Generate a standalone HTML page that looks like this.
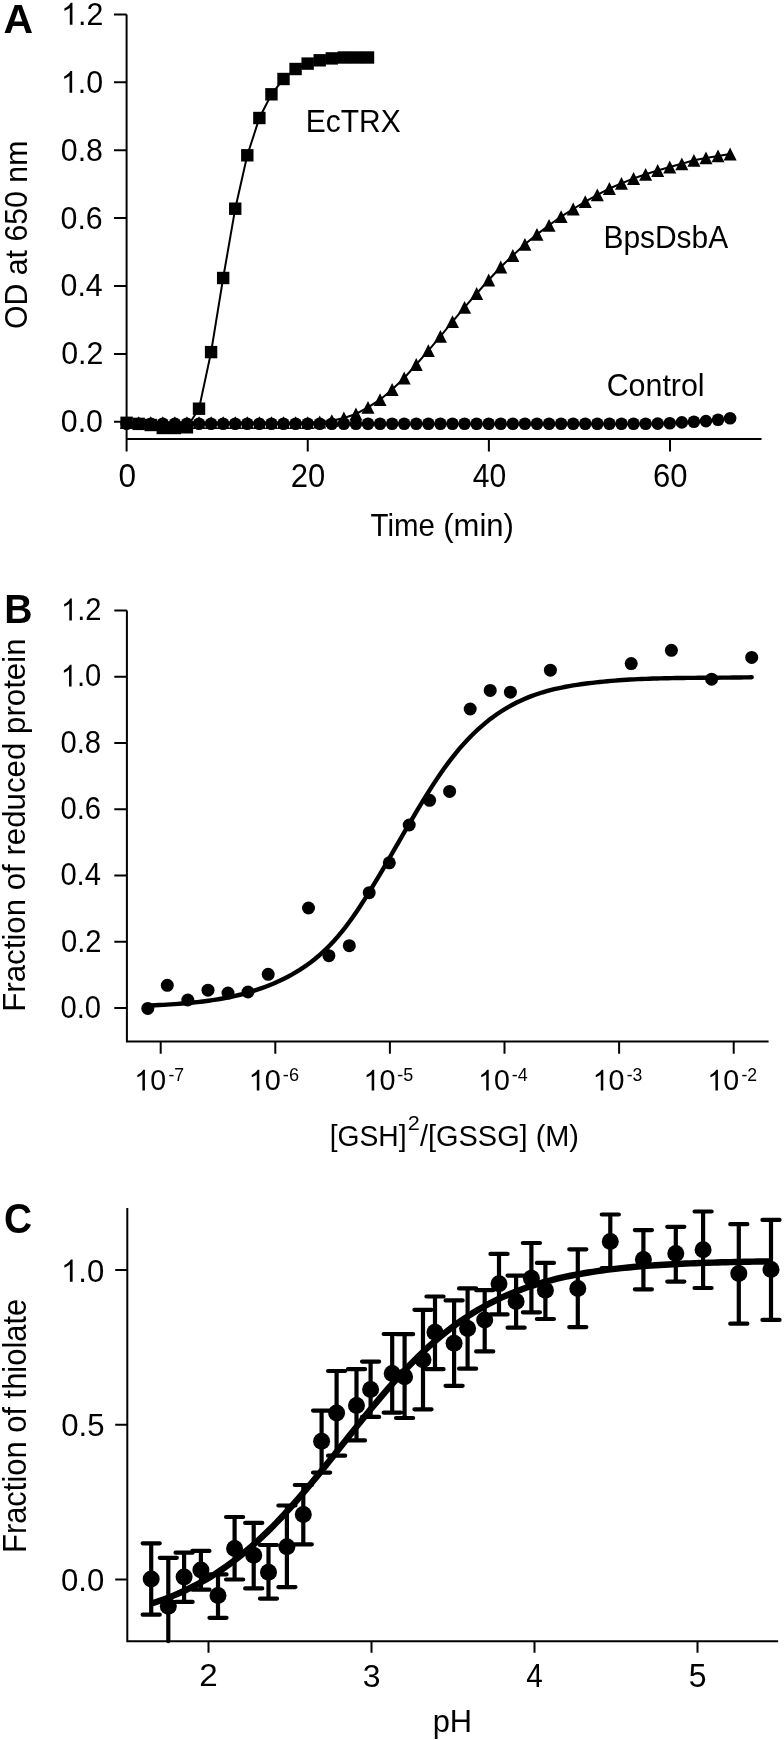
<!DOCTYPE html>
<html><head><meta charset="utf-8"><title>Figure</title>
<style>
html,body{margin:0;padding:0;background:#fff;}
body{width:784px;height:1740px;overflow:hidden;font-family:"Liberation Sans", sans-serif;}
svg{display:block;filter:grayscale(100%);}
</style></head><body>
<svg width="784" height="1740" viewBox="0 0 784 1740">
<rect width="784" height="1740" fill="#fff"/>
<g stroke="#000" stroke-width="2" fill="none" stroke-linecap="butt">
<path d="M126.6 14.4 V451.6 M126.6 439.1 H761.5"/>
<path d="M114 421.8 H126.6 M114 353.9 H126.6 M114 286 H126.6 M114 218.1 H126.6 M114 150.2 H126.6 M114 82.3 H126.6 M114 14.4 H126.6 M307.74 439.1 V451.6 M488.88 439.1 V451.6 M670.02 439.1 V451.6 "/>
<path d="M126.9 610.6 V1041.4 H768.6"/>
<path d="M114.3 1008 H126.9 M114.3 941.76 H126.9 M114.3 875.52 H126.9 M114.3 809.28 H126.9 M114.3 743.04 H126.9 M114.3 676.8 H126.9 M114.3 610.56 H126.9 M160.7 1041.4 V1053.8 M275.3 1041.4 V1053.8 M389.9 1041.4 V1053.8 M504.5 1041.4 V1053.8 M619.1 1041.4 V1053.8 M733.7 1041.4 V1053.8 "/>
<path d="M127.3 1208 V1641.2 H778.1"/>
<path d="M115.2 1579.5 H127.3 M115.2 1424.75 H127.3 M115.2 1270 H127.3 M208.5 1641.2 V1652.7 M371.5 1641.2 V1652.7 M534.5 1641.2 V1652.7 M697.5 1641.2 V1652.7 "/>
</g>
<g stroke="#000" stroke-width="2" fill="none">
<path d="M126.6 423.7 L138.67 423.7 L150.74 423.7 L162.81 423.7 L174.88 423.7 L186.95 423.7 L199.02 423.7 L211.09 423.7 L223.16 423.7 L235.23 423.7 L247.3 423.7 L259.37 423.7 L271.44 423.7 L283.51 423.7 L295.58 423.7 L307.65 423.7 L319.72 423.7 L331.79 423.7 L343.86 423.7 L355.93 423.7 L368 423.7 L380.07 423.7 L392.14 423.7 L404.21 423.7 L416.28 423.7 L428.35 423.7 L440.42 423.7 L452.49 423.7 L464.56 423.7 L476.63 423.7 L488.7 423.7 L500.77 423.7 L512.84 423.7 L524.91 423.7 L536.98 423.7 L549.05 423.7 L561.12 423.7 L573.19 423.7 L585.26 423.7 L597.33 423.7 L609.4 423.7 L621.47 423.7 L633.54 423.7 L645.61 423.7 L657.68 423.6 L669.75 423.3 L681.82 422.4 L693.89 421.8 L705.96 421.1 L718.03 419.8 L730.1 418.3"/>
<path d="M126.6 422.6 L138.67 422.6 L150.74 422.6 L162.81 422.6 L174.88 422.6 L186.95 422.6 L199.02 422.6 L211.09 422.6 L223.16 422.6 L235.23 422.6 L247.3 422.6 L259.37 422.6 L271.44 422.6 L283.51 422.6 L295.58 422.6 L307.65 422.6 L319.72 422 L331.79 420.7 L343.86 418 L355.93 414 L368 407.4 L380.07 399.7 L392.14 389.5 L404.21 378 L416.28 364.5 L428.35 350.6 L440.42 336.3 L452.49 321.6 L464.56 307.3 L476.63 293.5 L488.7 280 L500.77 267 L512.84 255.5 L524.91 244.3 L536.98 234.4 L549.05 225.3 L561.12 216.7 L573.19 209 L585.26 201.7 L597.33 194.8 L609.4 188.5 L621.47 183.3 L633.54 178.5 L645.61 174.3 L657.68 170.5 L669.75 167 L681.82 163.8 L693.89 160.3 L705.96 157.9 L718.03 155.9 L730.1 154"/>
<path d="M126.6 422.8 L138.67 423.9 L150.74 425 L162.81 428 L174.88 428 L186.95 427.3 L199.02 408.7 L211.09 352.1 L223.16 278 L235.23 208.7 L247.3 155.3 L259.37 118 L271.44 94.3 L283.51 79 L295.58 69 L307.65 63.6 L319.72 60.3 L331.79 58.4 L343.86 57.5 L355.93 57.5 L368 57.5"/>
</g>
<g fill="#000">
<circle cx="126.6" cy="423.7" r="6.3"/>
<circle cx="138.67" cy="423.7" r="6.3"/>
<circle cx="150.74" cy="423.7" r="6.3"/>
<circle cx="162.81" cy="423.7" r="6.3"/>
<circle cx="174.88" cy="423.7" r="6.3"/>
<circle cx="186.95" cy="423.7" r="6.3"/>
<circle cx="199.02" cy="423.7" r="6.3"/>
<circle cx="211.09" cy="423.7" r="6.3"/>
<circle cx="223.16" cy="423.7" r="6.3"/>
<circle cx="235.23" cy="423.7" r="6.3"/>
<circle cx="247.3" cy="423.7" r="6.3"/>
<circle cx="259.37" cy="423.7" r="6.3"/>
<circle cx="271.44" cy="423.7" r="6.3"/>
<circle cx="283.51" cy="423.7" r="6.3"/>
<circle cx="295.58" cy="423.7" r="6.3"/>
<circle cx="307.65" cy="423.7" r="6.3"/>
<circle cx="319.72" cy="423.7" r="6.3"/>
<circle cx="331.79" cy="423.7" r="6.3"/>
<circle cx="343.86" cy="423.7" r="6.3"/>
<circle cx="355.93" cy="423.7" r="6.3"/>
<circle cx="368" cy="423.7" r="6.3"/>
<circle cx="380.07" cy="423.7" r="6.3"/>
<circle cx="392.14" cy="423.7" r="6.3"/>
<circle cx="404.21" cy="423.7" r="6.3"/>
<circle cx="416.28" cy="423.7" r="6.3"/>
<circle cx="428.35" cy="423.7" r="6.3"/>
<circle cx="440.42" cy="423.7" r="6.3"/>
<circle cx="452.49" cy="423.7" r="6.3"/>
<circle cx="464.56" cy="423.7" r="6.3"/>
<circle cx="476.63" cy="423.7" r="6.3"/>
<circle cx="488.7" cy="423.7" r="6.3"/>
<circle cx="500.77" cy="423.7" r="6.3"/>
<circle cx="512.84" cy="423.7" r="6.3"/>
<circle cx="524.91" cy="423.7" r="6.3"/>
<circle cx="536.98" cy="423.7" r="6.3"/>
<circle cx="549.05" cy="423.7" r="6.3"/>
<circle cx="561.12" cy="423.7" r="6.3"/>
<circle cx="573.19" cy="423.7" r="6.3"/>
<circle cx="585.26" cy="423.7" r="6.3"/>
<circle cx="597.33" cy="423.7" r="6.3"/>
<circle cx="609.4" cy="423.7" r="6.3"/>
<circle cx="621.47" cy="423.7" r="6.3"/>
<circle cx="633.54" cy="423.7" r="6.3"/>
<circle cx="645.61" cy="423.7" r="6.3"/>
<circle cx="657.68" cy="423.6" r="6.3"/>
<circle cx="669.75" cy="423.3" r="6.3"/>
<circle cx="681.82" cy="422.4" r="6.3"/>
<circle cx="693.89" cy="421.8" r="6.3"/>
<circle cx="705.96" cy="421.1" r="6.3"/>
<circle cx="718.03" cy="419.8" r="6.3"/>
<circle cx="730.1" cy="418.3" r="6.3"/>
<path d="M126.6 416.2l6.5 12.8h-13z"/>
<path d="M138.67 416.2l6.5 12.8h-13z"/>
<path d="M150.74 416.2l6.5 12.8h-13z"/>
<path d="M162.81 416.2l6.5 12.8h-13z"/>
<path d="M174.88 416.2l6.5 12.8h-13z"/>
<path d="M186.95 416.2l6.5 12.8h-13z"/>
<path d="M199.02 416.2l6.5 12.8h-13z"/>
<path d="M211.09 416.2l6.5 12.8h-13z"/>
<path d="M223.16 416.2l6.5 12.8h-13z"/>
<path d="M235.23 416.2l6.5 12.8h-13z"/>
<path d="M247.3 416.2l6.5 12.8h-13z"/>
<path d="M259.37 416.2l6.5 12.8h-13z"/>
<path d="M271.44 416.2l6.5 12.8h-13z"/>
<path d="M283.51 416.2l6.5 12.8h-13z"/>
<path d="M295.58 416.2l6.5 12.8h-13z"/>
<path d="M307.65 416.2l6.5 12.8h-13z"/>
<path d="M319.72 415.6l6.5 12.8h-13z"/>
<path d="M331.79 414.3l6.5 12.8h-13z"/>
<path d="M343.86 411.6l6.5 12.8h-13z"/>
<path d="M355.93 407.6l6.5 12.8h-13z"/>
<path d="M368 401l6.5 12.8h-13z"/>
<path d="M380.07 393.3l6.5 12.8h-13z"/>
<path d="M392.14 383.1l6.5 12.8h-13z"/>
<path d="M404.21 371.6l6.5 12.8h-13z"/>
<path d="M416.28 358.1l6.5 12.8h-13z"/>
<path d="M428.35 344.2l6.5 12.8h-13z"/>
<path d="M440.42 329.9l6.5 12.8h-13z"/>
<path d="M452.49 315.2l6.5 12.8h-13z"/>
<path d="M464.56 300.9l6.5 12.8h-13z"/>
<path d="M476.63 287.1l6.5 12.8h-13z"/>
<path d="M488.7 273.6l6.5 12.8h-13z"/>
<path d="M500.77 260.6l6.5 12.8h-13z"/>
<path d="M512.84 249.1l6.5 12.8h-13z"/>
<path d="M524.91 237.9l6.5 12.8h-13z"/>
<path d="M536.98 228l6.5 12.8h-13z"/>
<path d="M549.05 218.9l6.5 12.8h-13z"/>
<path d="M561.12 210.3l6.5 12.8h-13z"/>
<path d="M573.19 202.6l6.5 12.8h-13z"/>
<path d="M585.26 195.3l6.5 12.8h-13z"/>
<path d="M597.33 188.4l6.5 12.8h-13z"/>
<path d="M609.4 182.1l6.5 12.8h-13z"/>
<path d="M621.47 176.9l6.5 12.8h-13z"/>
<path d="M633.54 172.1l6.5 12.8h-13z"/>
<path d="M645.61 167.9l6.5 12.8h-13z"/>
<path d="M657.68 164.1l6.5 12.8h-13z"/>
<path d="M669.75 160.6l6.5 12.8h-13z"/>
<path d="M681.82 157.4l6.5 12.8h-13z"/>
<path d="M693.89 153.9l6.5 12.8h-13z"/>
<path d="M705.96 151.5l6.5 12.8h-13z"/>
<path d="M718.03 149.5l6.5 12.8h-13z"/>
<path d="M730.1 147.6l6.5 12.8h-13z"/>
<rect x="120.4" y="416.6" width="12.4" height="12.4"/>
<rect x="132.47" y="417.7" width="12.4" height="12.4"/>
<rect x="144.54" y="418.8" width="12.4" height="12.4"/>
<rect x="156.61" y="421.8" width="12.4" height="12.4"/>
<rect x="168.68" y="421.8" width="12.4" height="12.4"/>
<rect x="180.75" y="421.1" width="12.4" height="12.4"/>
<rect x="192.82" y="402.5" width="12.4" height="12.4"/>
<rect x="204.89" y="345.9" width="12.4" height="12.4"/>
<rect x="216.96" y="271.8" width="12.4" height="12.4"/>
<rect x="229.03" y="202.5" width="12.4" height="12.4"/>
<rect x="241.1" y="149.1" width="12.4" height="12.4"/>
<rect x="253.17" y="111.8" width="12.4" height="12.4"/>
<rect x="265.24" y="88.1" width="12.4" height="12.4"/>
<rect x="277.31" y="72.8" width="12.4" height="12.4"/>
<rect x="289.38" y="62.8" width="12.4" height="12.4"/>
<rect x="301.45" y="57.4" width="12.4" height="12.4"/>
<rect x="313.52" y="54.1" width="12.4" height="12.4"/>
<rect x="325.59" y="52.2" width="12.4" height="12.4"/>
<rect x="337.66" y="51.3" width="12.4" height="12.4"/>
<rect x="349.73" y="51.3" width="12.4" height="12.4"/>
<rect x="361.8" y="51.3" width="12.4" height="12.4"/>
</g>
<path d="M147.8 1005.72 L151.6 1005.51 L155.4 1005.29 L159.19 1005.07 L162.99 1004.85 L166.79 1004.62 L170.59 1004.37 L174.39 1004.12 L178.18 1003.84 L181.98 1003.55 L185.78 1003.24 L189.58 1002.9 L193.38 1002.53 L197.18 1002.13 L200.97 1001.7 L204.77 1001.24 L208.57 1000.74 L212.37 1000.19 L216.17 999.6 L219.96 998.97 L223.76 998.29 L227.56 997.55 L231.36 996.76 L235.16 995.91 L238.95 995 L242.75 994.03 L246.55 993 L250.35 991.89 L254.15 990.71 L257.95 989.46 L261.74 988.14 L265.54 986.73 L269.34 985.24 L273.14 983.67 L276.94 982.01 L280.73 980.26 L284.53 978.41 L288.33 976.46 L292.13 974.4 L295.93 972.21 L299.72 969.88 L303.52 967.4 L307.32 964.77 L311.12 961.96 L314.92 958.98 L318.72 955.8 L322.51 952.42 L326.31 948.83 L330.11 945.02 L333.91 940.97 L337.71 936.67 L341.5 932.12 L345.3 927.31 L349.1 922.25 L352.9 916.95 L356.7 911.45 L360.49 905.75 L364.29 899.88 L368.09 893.86 L371.89 887.7 L375.69 881.42 L379.48 875.05 L383.28 868.59 L387.08 862.07 L390.88 855.52 L394.68 848.94 L398.48 842.35 L402.27 835.77 L406.07 829.22 L409.87 822.71 L413.67 816.26 L417.47 809.88 L421.26 803.58 L425.06 797.4 L428.86 791.33 L432.66 785.4 L436.46 779.61 L440.25 774 L444.05 768.57 L447.85 763.34 L451.65 758.32 L455.45 753.52 L459.25 748.95 L463.04 744.59 L466.84 740.43 L470.64 736.48 L474.44 732.73 L478.24 729.17 L482.03 725.8 L485.83 722.6 L489.63 719.58 L493.43 716.72 L497.23 714.03 L501.02 711.5 L504.82 709.11 L508.62 706.87 L512.42 704.77 L516.22 702.8 L520.02 700.96 L523.81 699.24 L527.61 697.64 L531.41 696.14 L535.21 694.76 L539.01 693.47 L542.8 692.27 L546.6 691.17 L550.4 690.15 L554.2 689.2 L558 688.33 L561.79 687.53 L565.59 686.78 L569.39 686.09 L573.19 685.45 L576.99 684.86 L580.78 684.3 L584.58 683.78 L588.38 683.29 L592.18 682.82 L595.98 682.39 L599.78 681.98 L603.57 681.59 L607.37 681.24 L611.17 680.9 L614.97 680.59 L618.77 680.3 L622.56 680.04 L626.36 679.79 L630.16 679.56 L633.96 679.36 L637.76 679.17 L641.55 679 L645.35 678.84 L649.15 678.7 L652.95 678.57 L656.75 678.46 L660.55 678.35 L664.34 678.26 L668.14 678.18 L671.94 678.11 L675.74 678.05 L679.54 678 L683.33 677.95 L687.13 677.91 L690.93 677.88 L694.73 677.85 L698.53 677.82 L702.32 677.79 L706.12 677.77 L709.92 677.74 L713.72 677.72 L717.52 677.69 L721.32 677.67 L725.11 677.64 L728.91 677.6 L732.71 677.56 L736.51 677.52 L740.31 677.46 L744.1 677.4 L747.9 677.34 L751.7 677.26" stroke="#000" stroke-width="4.4" fill="none" stroke-linecap="round"/>
<g fill="#000">
<circle cx="147.8" cy="1008.4" r="6.5"/>
<circle cx="167.3" cy="985.3" r="6.5"/>
<circle cx="187.8" cy="1000" r="6.5"/>
<circle cx="208" cy="990.2" r="6.5"/>
<circle cx="228" cy="993.1" r="6.5"/>
<circle cx="248" cy="992" r="6.5"/>
<circle cx="268.2" cy="974.3" r="6.5"/>
<circle cx="308.5" cy="908" r="6.5"/>
<circle cx="328.9" cy="955.7" r="6.5"/>
<circle cx="349.3" cy="945.7" r="6.5"/>
<circle cx="369.2" cy="892.7" r="6.5"/>
<circle cx="389.3" cy="862.8" r="6.5"/>
<circle cx="409.2" cy="825" r="6.5"/>
<circle cx="429.6" cy="800.3" r="6.5"/>
<circle cx="449.6" cy="791.4" r="6.5"/>
<circle cx="470.2" cy="709" r="6.5"/>
<circle cx="490.2" cy="690.4" r="6.5"/>
<circle cx="510.4" cy="692.2" r="6.5"/>
<circle cx="550.4" cy="670.2" r="6.5"/>
<circle cx="631.2" cy="663.6" r="6.5"/>
<circle cx="671.4" cy="650.3" r="6.5"/>
<circle cx="711.6" cy="679.2" r="6.5"/>
<circle cx="751.7" cy="657.4" r="6.5"/>
</g>
<path d="M151.2 1543.3V1614.7 M142.65 1543.3h17.1 M142.65 1614.7h17.1 M168.3 1557.8V1641.2 M159.75 1557.8h17.1 M184.1 1552.7V1601.9 M175.55 1552.7h17.1 M175.55 1601.9h17.1 M200.9 1550.9V1589.7 M192.35 1550.9h17.1 M192.35 1589.7h17.1 M218 1574.4V1617.8 M209.45 1574.4h17.1 M209.45 1617.8h17.1 M234.6 1517V1579.5 M226.05 1517h17.1 M226.05 1579.5h17.1 M253.7 1522.9V1588.4 M245.15 1522.9h17.1 M245.15 1588.4h17.1 M268.5 1545V1598.6 M259.95 1545h17.1 M259.95 1598.6h17.1 M286.9 1505.5V1587.1 M278.35 1505.5h17.1 M278.35 1587.1h17.1 M303.3 1485V1544.3 M294.75 1485h17.1 M294.75 1544.3h17.1 M321.6 1410.6V1472.6 M313.05 1410.6h17.1 M313.05 1472.6h17.1 M336.6 1371V1455.7 M328.05 1371h17.1 M328.05 1455.7h17.1 M356.5 1369.2V1440.4 M347.95 1369.2h17.1 M347.95 1440.4h17.1 M370.6 1361.6V1416.9 M362.05 1361.6h17.1 M362.05 1416.9h17.1 M392.2 1334V1412.6 M383.65 1334h17.1 M383.65 1412.6h17.1 M404.6 1334.2V1418 M396.05 1334.2h17.1 M396.05 1418h17.1 M423 1309.8V1409.3 M414.45 1309.8h17.1 M414.45 1409.3h17.1 M435 1296.5V1369.2 M426.45 1296.5h17.1 M426.45 1369.2h17.1 M454.1 1300.4V1385.8 M445.55 1300.4h17.1 M445.55 1385.8h17.1 M467.6 1288.4V1368.7 M459.05 1288.4h17.1 M459.05 1368.7h17.1 M484.7 1290.2V1351.4 M476.15 1290.2h17.1 M476.15 1351.4h17.1 M499 1253.9V1314.4 M490.45 1253.9h17.1 M490.45 1314.4h17.1 M516.1 1275.6V1327.7 M507.55 1275.6h17.1 M507.55 1327.7h17.1 M531.4 1243V1312.3 M522.85 1243h17.1 M522.85 1312.3h17.1 M545.4 1262.9V1319 M536.85 1262.9h17.1 M536.85 1319h17.1 M577.8 1249.3V1327.1 M569.25 1249.3h17.1 M569.25 1327.1h17.1 M610.3 1214.5V1268 M601.75 1214.5h17.1 M601.75 1268h17.1 M643.4 1230.1V1289.3 M634.85 1230.1h17.1 M634.85 1289.3h17.1 M675.8 1226.8V1281.6 M667.25 1226.8h17.1 M667.25 1281.6h17.1 M703.1 1211.5V1288 M694.55 1211.5h17.1 M694.55 1288h17.1 M738.8 1224.2V1323.7 M730.25 1224.2h17.1 M730.25 1323.7h17.1 M771 1219.9V1319.9 M762.45 1219.9h17.1 M762.45 1319.9h17.1 " stroke="#000" stroke-width="4.2" fill="none" stroke-linecap="round"/>
<g fill="#000">
<circle cx="151.2" cy="1579" r="8.5"/>
<circle cx="168.3" cy="1606.3" r="8.5"/>
<circle cx="184.1" cy="1577" r="8.5"/>
<circle cx="200.9" cy="1570" r="8.5"/>
<circle cx="218" cy="1595.6" r="8.5"/>
<circle cx="234.6" cy="1548.4" r="8.5"/>
<circle cx="253.7" cy="1555.3" r="8.5"/>
<circle cx="268.5" cy="1572.3" r="8.5"/>
<circle cx="286.9" cy="1546.8" r="8.5"/>
<circle cx="303.3" cy="1514.5" r="8.5"/>
<circle cx="321.6" cy="1441.2" r="8.5"/>
<circle cx="336.6" cy="1413.1" r="8.5"/>
<circle cx="356.5" cy="1405.5" r="8.5"/>
<circle cx="370.6" cy="1389.4" r="8.5"/>
<circle cx="392.2" cy="1373.6" r="8.5"/>
<circle cx="404.6" cy="1376.8" r="8.5"/>
<circle cx="423" cy="1359.8" r="8.5"/>
<circle cx="435" cy="1332.2" r="8.5"/>
<circle cx="454.1" cy="1343.2" r="8.5"/>
<circle cx="467.6" cy="1328.4" r="8.5"/>
<circle cx="484.7" cy="1320" r="8.5"/>
<circle cx="499" cy="1283.8" r="8.5"/>
<circle cx="516.1" cy="1301.6" r="8.5"/>
<circle cx="531.4" cy="1278.2" r="8.5"/>
<circle cx="545.4" cy="1290.2" r="8.5"/>
<circle cx="577.8" cy="1288.4" r="8.5"/>
<circle cx="610.3" cy="1241.6" r="8.5"/>
<circle cx="643.4" cy="1259.4" r="8.5"/>
<circle cx="675.8" cy="1253.6" r="8.5"/>
<circle cx="703.1" cy="1249.7" r="8.5"/>
<circle cx="738.8" cy="1273.5" r="8.5"/>
<circle cx="771" cy="1269.6" r="8.5"/>
</g>
<path d="M151.7 1603.52 L156.16 1602.05 L160.61 1600.51 L165.07 1598.89 L169.52 1597.18 L173.98 1595.38 L178.43 1593.49 L182.89 1591.5 L187.34 1589.41 L191.8 1587.22 L196.25 1584.92 L200.71 1582.52 L205.16 1580 L209.62 1577.37 L214.08 1574.61 L218.53 1571.74 L222.99 1568.74 L227.44 1565.61 L231.9 1562.36 L236.35 1558.97 L240.81 1555.46 L245.26 1551.81 L249.72 1548.03 L254.17 1544.12 L258.63 1540.07 L263.08 1535.9 L267.54 1531.6 L272 1527.17 L276.45 1522.61 L280.91 1517.94 L285.36 1513.15 L289.82 1508.25 L294.27 1503.25 L298.73 1498.15 L303.18 1492.95 L307.64 1487.67 L312.09 1482.32 L316.55 1476.9 L321.01 1471.41 L325.46 1465.88 L329.92 1460.31 L334.37 1454.71 L338.83 1449.09 L343.28 1443.47 L347.74 1437.84 L352.19 1432.23 L356.65 1426.63 L361.1 1421.08 L365.56 1415.56 L370.01 1410.1 L374.47 1404.7 L378.93 1399.37 L383.38 1394.12 L387.84 1388.95 L392.29 1383.88 L396.75 1378.91 L401.2 1374.05 L405.66 1369.3 L410.11 1364.67 L414.57 1360.16 L419.02 1355.77 L423.48 1351.51 L427.93 1347.38 L432.39 1343.38 L436.85 1339.51 L441.3 1335.78 L445.76 1332.18 L450.21 1328.71 L454.67 1325.37 L459.12 1322.16 L463.58 1319.07 L468.03 1316.12 L472.49 1313.28 L476.94 1310.57 L481.4 1307.97 L485.85 1305.49 L490.31 1303.13 L494.77 1300.87 L499.22 1298.71 L503.68 1296.66 L508.13 1294.7 L512.59 1292.84 L517.04 1291.08 L521.5 1289.4 L525.95 1287.8 L530.41 1286.28 L534.86 1284.85 L539.32 1283.48 L543.77 1282.19 L548.23 1280.97 L552.69 1279.81 L557.14 1278.71 L561.6 1277.67 L566.05 1276.68 L570.51 1275.75 L574.96 1274.87 L579.42 1274.04 L583.87 1273.26 L588.33 1272.51 L592.78 1271.81 L597.24 1271.15 L601.69 1270.53 L606.15 1269.94 L610.61 1269.38 L615.06 1268.85 L619.52 1268.36 L623.97 1267.89 L628.43 1267.45 L632.88 1267.04 L637.34 1266.64 L641.79 1266.27 L646.25 1265.93 L650.7 1265.6 L655.16 1265.29 L659.62 1265 L664.07 1264.72 L668.53 1264.46 L672.98 1264.22 L677.44 1263.99 L681.89 1263.78 L686.35 1263.57 L690.8 1263.38 L695.26 1263.2 L699.71 1263.03 L704.17 1262.87 L708.62 1262.72 L713.08 1262.58 L717.54 1262.44 L721.99 1262.32 L726.45 1262.2 L730.9 1262.09 L735.36 1261.98 L739.81 1261.89 L744.27 1261.79 L748.72 1261.71 L753.18 1261.62 L757.63 1261.55 L762.09 1261.47 L766.54 1261.4 L771 1261.34" stroke="#000" stroke-width="6.4" fill="none" stroke-linecap="butt"/>
<g fill="#000" font-family='"Liberation Sans", sans-serif'>
<g class="t"><text x="3.62" y="32.84" font-size="41.38" textLength="29.6" lengthAdjust="spacingAndGlyphs" font-weight="bold">A</text></g>
<g class="t"><text x="102.97" y="432.28" font-size="31.24" textLength="42.16" lengthAdjust="spacingAndGlyphs" text-anchor="end">0.0</text></g>
<g class="t"><text x="103.29" y="364.1" font-size="31.24" textLength="42.16" lengthAdjust="spacingAndGlyphs" text-anchor="end">0.2</text></g>
<g class="t"><text x="102.7" y="296.45" font-size="31.24" textLength="42.16" lengthAdjust="spacingAndGlyphs" text-anchor="end">0.4</text></g>
<g class="t"><text x="102.75" y="228.57" font-size="31.24" textLength="42.16" lengthAdjust="spacingAndGlyphs" text-anchor="end">0.6</text></g>
<g class="t"><text x="103" y="160.9" font-size="31.24" textLength="42.16" lengthAdjust="spacingAndGlyphs" text-anchor="end">0.8</text></g>
<g class="t"><path transform="matrix(0.01481 0 0 -0.01482 60.87 92.76)" d="M763 0H583V1147Q518 1085 412 1023Q307 961 223 930V1104Q374 1175 487 1276Q600 1377 647 1472H763Z"/><text x="103.02" y="92.76" font-size="31.24" textLength="42.16" lengthAdjust="spacingAndGlyphs" text-anchor="end"> .0</text></g>
<g class="t"><path transform="matrix(0.01481 0 0 -0.01498 61.15 24.85)" d="M763 0H583V1147Q518 1085 412 1023Q307 961 223 930V1104Q374 1175 487 1276Q600 1377 647 1472H763Z"/><text x="103.31" y="24.85" font-size="31.59" textLength="42.16" lengthAdjust="spacingAndGlyphs" text-anchor="end"> .2</text></g>
<g class="t"><text x="118.38" y="486.57" font-size="32.83" textLength="17.59" lengthAdjust="spacingAndGlyphs">0</text></g>
<g class="t"><text x="290.77" y="486.57" font-size="32.83" textLength="34.52" lengthAdjust="spacingAndGlyphs">20</text></g>
<g class="t"><text x="472.81" y="486.57" font-size="32.83" textLength="33.45" lengthAdjust="spacingAndGlyphs">40</text></g>
<g class="t"><text x="653.04" y="486.57" font-size="32.83" textLength="34.52" lengthAdjust="spacingAndGlyphs">60</text></g>
<g class="t"><text x="305.83" y="131.7" font-size="31.94" textLength="94.81" lengthAdjust="spacingAndGlyphs">EcTRX</text></g>
<g class="t"><text x="603.43" y="248.3" font-size="31.49" textLength="124.71" lengthAdjust="spacingAndGlyphs">BpsDsbA</text></g>
<g class="t"><text x="606.65" y="395.9" font-size="31.49" textLength="97.98" lengthAdjust="spacingAndGlyphs">Control</text></g>
<g class="t"><text x="370.5" y="535.6" font-size="31.06" textLength="64.35" lengthAdjust="spacingAndGlyphs">Time</text></g>
<g class="t"><text x="443.19" y="535.6" font-size="31.06" textLength="70.71" lengthAdjust="spacingAndGlyphs">(min)</text></g>
<g class="t"><text transform="translate(26.85 329.01) rotate(-90)" font-size="30.85" textLength="188.35" lengthAdjust="spacingAndGlyphs">OD at 650 nm</text></g>
<g class="t"><text x="4.29" y="622.52" font-size="41.54" textLength="28.3" lengthAdjust="spacingAndGlyphs" font-weight="bold">B</text></g>
<g class="t"><text x="100.96" y="1018.07" font-size="30.96" textLength="40.54" lengthAdjust="spacingAndGlyphs" text-anchor="end">0.0</text></g>
<g class="t"><text x="101.55" y="951.77" font-size="30.96" textLength="40.54" lengthAdjust="spacingAndGlyphs" text-anchor="end">0.2</text></g>
<g class="t"><text x="100.94" y="885.14" font-size="30.96" textLength="40.54" lengthAdjust="spacingAndGlyphs" text-anchor="end">0.4</text></g>
<g class="t"><text x="101.02" y="819.35" font-size="30.96" textLength="40.54" lengthAdjust="spacingAndGlyphs" text-anchor="end">0.6</text></g>
<g class="t"><text x="101.02" y="752.72" font-size="30.96" textLength="40.54" lengthAdjust="spacingAndGlyphs" text-anchor="end">0.8</text></g>
<g class="t"><path transform="matrix(0.01424 0 0 -0.01469 60.69 686.42)" d="M763 0H583V1147Q518 1085 412 1023Q307 961 223 930V1104Q374 1175 487 1276Q600 1377 647 1472H763Z"/><text x="101.23" y="686.42" font-size="30.96" textLength="40.54" lengthAdjust="spacingAndGlyphs" text-anchor="end"> .0</text></g>
<g class="t"><path transform="matrix(0.01424 0 0 -0.01486 61 620.48)" d="M763 0H583V1147Q518 1085 412 1023Q307 961 223 930V1104Q374 1175 487 1276Q600 1377 647 1472H763Z"/><text x="101.54" y="620.48" font-size="31.33" textLength="40.54" lengthAdjust="spacingAndGlyphs" text-anchor="end"> .2</text></g>
<g class="t"><path transform="matrix(0.01393 0 0 -0.01412 134.29 1090.47)" d="M763 0H583V1147Q518 1085 412 1023Q307 961 223 930V1104Q374 1175 487 1276Q600 1377 647 1472H763Z"/><text x="134.29" y="1090.47" font-size="29.76" textLength="31.73" lengthAdjust="spacingAndGlyphs"> 0</text></g>
<g class="t"><text x="168.49" y="1081.2" font-size="18.78" textLength="15.67" lengthAdjust="spacingAndGlyphs">-7</text></g>
<g class="t"><path transform="matrix(0.01411 0 0 -0.01412 248.57 1090.47)" d="M763 0H583V1147Q518 1085 412 1023Q307 961 223 930V1104Q374 1175 487 1276Q600 1377 647 1472H763Z"/><text x="248.57" y="1090.47" font-size="29.76" textLength="32.13" lengthAdjust="spacingAndGlyphs"> 0</text></g>
<g class="t"><text x="282.82" y="1080.94" font-size="18.41" textLength="16.2" lengthAdjust="spacingAndGlyphs">-6</text></g>
<g class="t"><path transform="matrix(0.01407 0 0 -0.01412 363.47 1090.47)" d="M763 0H583V1147Q518 1085 412 1023Q307 961 223 930V1104Q374 1175 487 1276Q600 1377 647 1472H763Z"/><text x="363.47" y="1090.47" font-size="29.76" textLength="32.04" lengthAdjust="spacingAndGlyphs"> 0</text></g>
<g class="t"><text x="397.18" y="1080.94" font-size="18.41" textLength="15.99" lengthAdjust="spacingAndGlyphs">-5</text></g>
<g class="t"><path transform="matrix(0.01393 0 0 -0.01412 478.09 1090.47)" d="M763 0H583V1147Q518 1085 412 1023Q307 961 223 930V1104Q374 1175 487 1276Q600 1377 647 1472H763Z"/><text x="478.09" y="1090.47" font-size="29.76" textLength="31.73" lengthAdjust="spacingAndGlyphs"> 0</text></g>
<g class="t"><text x="511.87" y="1081.2" font-size="18.78" textLength="15.92" lengthAdjust="spacingAndGlyphs">-4</text></g>
<g class="t"><path transform="matrix(0.01401 0 0 -0.01412 592.6 1090.47)" d="M763 0H583V1147Q518 1085 412 1023Q307 961 223 930V1104Q374 1175 487 1276Q600 1377 647 1472H763Z"/><text x="592.6" y="1090.47" font-size="29.76" textLength="31.91" lengthAdjust="spacingAndGlyphs"> 0</text></g>
<g class="t"><text x="626.76" y="1080.94" font-size="18.41" textLength="15.65" lengthAdjust="spacingAndGlyphs">-3</text></g>
<g class="t"><path transform="matrix(0.01393 0 0 -0.01412 707.29 1090.47)" d="M763 0H583V1147Q518 1085 412 1023Q307 961 223 930V1104Q374 1175 487 1276Q600 1377 647 1472H763Z"/><text x="707.29" y="1090.47" font-size="29.76" textLength="31.73" lengthAdjust="spacingAndGlyphs"> 0</text></g>
<g class="t"><text x="741.49" y="1081.2" font-size="18.78" textLength="15.67" lengthAdjust="spacingAndGlyphs">-2</text></g>
<g class="t"><text x="329.64" y="1145.6" font-size="29.79" textLength="76.87" lengthAdjust="spacingAndGlyphs">[GSH]</text></g>
<g class="t"><text x="407.67" y="1130.21" font-size="20.01" textLength="12.03" lengthAdjust="spacingAndGlyphs">2</text></g>
<g class="t"><text x="420.05" y="1145.6" font-size="29.79" textLength="158.95" lengthAdjust="spacingAndGlyphs">/[GSSG] (M)</text></g>
<g class="t"><text transform="translate(25.25 1011.75) rotate(-90)" font-size="31.99" textLength="373.27" lengthAdjust="spacingAndGlyphs">Fraction of reduced protein</text></g>
<g class="t"><text x="4.01" y="1233.15" font-size="42.84" textLength="28.12" lengthAdjust="spacingAndGlyphs" font-weight="bold">C</text></g>
<g class="t"><text x="104.28" y="1590.74" font-size="32.06" textLength="43.29" lengthAdjust="spacingAndGlyphs" text-anchor="end">0.0</text></g>
<g class="t"><text x="104.53" y="1435.9" font-size="32.06" textLength="43.29" lengthAdjust="spacingAndGlyphs" text-anchor="end">0.5</text></g>
<g class="t"><path transform="matrix(0.01521 0 0 -0.01521 61.01 1281.81)" d="M763 0H583V1147Q518 1085 412 1023Q307 961 223 930V1104Q374 1175 487 1276Q600 1377 647 1472H763Z"/><text x="104.3" y="1281.81" font-size="32.06" textLength="43.29" lengthAdjust="spacingAndGlyphs" text-anchor="end"> .0</text></g>
<g class="t"><text x="199.35" y="1686.34" font-size="31.64" textLength="18.46" lengthAdjust="spacingAndGlyphs">2</text></g>
<g class="t"><text x="362.65" y="1686.57" font-size="31.26" textLength="17.8" lengthAdjust="spacingAndGlyphs">3</text></g>
<g class="t"><text x="526.26" y="1686.82" font-size="32.79" textLength="16.51" lengthAdjust="spacingAndGlyphs">4</text></g>
<g class="t"><text x="688.67" y="1686.57" font-size="32.38" textLength="17.78" lengthAdjust="spacingAndGlyphs">5</text></g>
<g class="t"><text x="432.73" y="1731.75" font-size="30.43" textLength="39.41" lengthAdjust="spacingAndGlyphs">pH</text></g>
<g class="t"><text transform="translate(25.5 1552.99) rotate(-90)" font-size="32.41" textLength="254.2" lengthAdjust="spacingAndGlyphs">Fraction of thiolate</text></g>
</g>
</svg>
</body></html>
